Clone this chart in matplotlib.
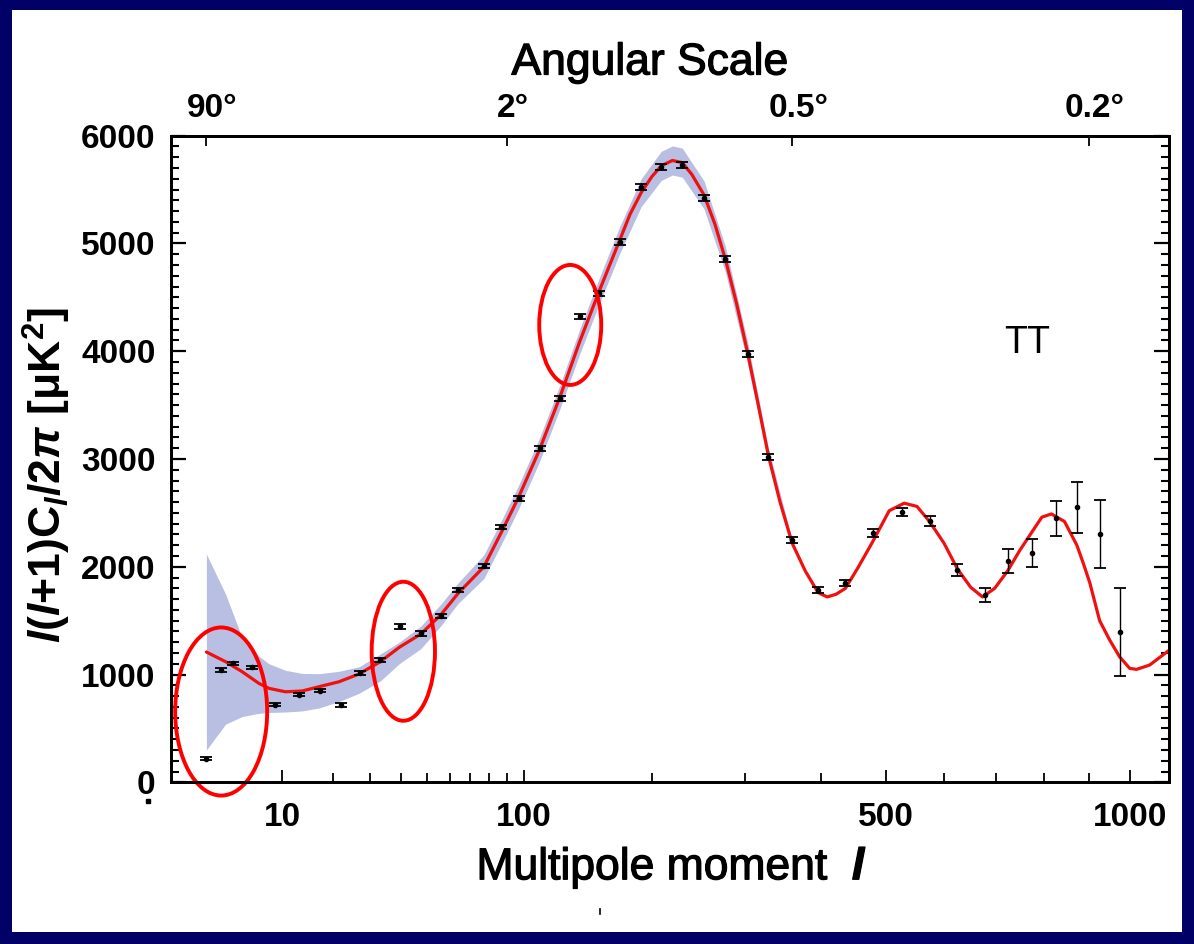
import numpy as np
import matplotlib
matplotlib.use('Agg')
import matplotlib.pyplot as plt
import matplotlib.transforms as mtrans
import matplotlib.patheffects as pe
from matplotlib.patches import Ellipse, Rectangle
from matplotlib.lines import Line2D
from matplotlib.ticker import FixedLocator, NullFormatter, FixedFormatter, MultipleLocator

# ---------------- data ----------------
data_l = [2, 3, 4, 5.9, 8.9, 12.8, 16.9, 21.8, 27, 33.1, 39.8, 47.7, 56, 64.1,
          77.1, 86.5, 97.2, 110.6, 124.3, 139, 153.9, 171.4, 190.1, 209, 230,
          253, 277, 303, 329, 360, 396, 436, 478, 527, 574, 625, 677, 723,
          775, 825, 873, 926, 974]
data_v = [219, 1042, 1104, 1067, 720, 813, 850, 717, 1014, 1135, 1447, 1382,
          1543, 1784, 2007, 2368, 2635, 3099, 3563, 4323, 4536, 5012, 5522,
          5708, 5727, 5421, 4855, 3973, 3017, 2247, 1784, 1849, 2313, 2508,
          2424, 1970, 1737, 2053, 2128, 2449, 2551, 2300, 1394]
data_err = [15, 15, 15, 15, 15, 15, 15, 15, 15, 20, 20, 20, 20, 20,
            22, 22, 22, 25, 25, 25, 25, 28, 28, 28, 28,
            28, 28, 28, 28, 28, 30, 30, 35, 38, 50, 55, 65, 115,
            130, 160, 240, 315, 410]

model_l = [2, 3.35, 4.86, 6.74, 8.05, 10.5, 13.4, 16.8, 21.4, 26.7, 33.1, 39.5,
           47.7, 56, 64, 77, 87, 97, 110, 124, 139, 154, 171, 180, 190, 200,
           209, 220, 230, 240, 253, 265, 277, 290, 303, 316, 329, 344, 360,
           378, 396, 409, 422, 436, 455, 478, 505, 530, 552, 574, 600, 625,
           650, 673, 697, 723, 748, 775, 795, 816, 845, 873, 888, 903, 926,
           950, 974, 999, 1016, 1049, 1098]
model_v = [1209, 1119, 1026, 918, 872, 840, 847, 887, 933, 1005, 1119, 1252,
           1376, 1552, 1753, 2000, 2330, 2650, 3080, 3570, 4100, 4560, 5030,
           5270, 5470, 5620, 5720, 5770, 5750, 5640, 5450, 5180, 4850, 4440,
           3990, 3510, 3030, 2600, 2220, 1960, 1760, 1720, 1745, 1800, 1990,
           2230, 2520, 2590, 2560, 2420, 2220, 1980, 1810, 1720, 1800, 1960,
           2150, 2330, 2460, 2490, 2420, 2200, 2030, 1850, 1500, 1320, 1165,
           1057, 1048, 1088, 1221]

band_l = [2, 3.35, 4.86, 6.74, 8.05, 10.5, 13.4, 16.8, 21.4, 26.7, 33.1, 39.5,
          47.7, 56, 64, 77, 87, 97, 110, 124, 139, 154, 171, 190, 209, 220,
          230, 253, 277, 303, 329, 360]
band_hi = [2118, 1745, 1340, 1170, 1100, 1040, 1010, 1008, 1030, 1072, 1190,
           1300, 1450, 1650, 1850, 2110, 2440, 2760, 3190, 3680, 4215, 4680,
           5155, 5600, 5855, 5905, 5885, 5580, 4970, 4090, 3100, 2250]
band_lo = [300, 540, 610, 640, 648, 652, 662, 690, 750, 826, 940, 1100, 1240,
           1450, 1660, 1890, 2220, 2540, 2970, 3460, 3985, 4440, 4905, 5340,
           5585, 5635, 5615, 5320, 4730, 3890, 2960, 2190]

bottom_ticks = [10, 100, 500, 1000]
bottom_labels = ['10', '100', '500', '1000']
bottom_minor = [20, 30, 40, 50, 60, 70, 80, 90, 200, 300, 400, 600, 700, 800, 900]
top_ticks = [2, 90, 360, 900]
top_labels = ['90°', '2°', '0.5°', '0.2°']

# annotation ellipses (centre in data units, size in axes fraction)
ell_l = [3, 41, 131.6]
ell_v = [657, 1216, 4244]
ell_w = [0.0921, 0.0634, 0.0621]
ell_h = [0.260, 0.215, 0.1856]

# ---------------- style ----------------
plt.rcParams['font.family'] = ['Liberation Sans', 'DejaVu Sans']
plt.rcParams['mathtext.fontset'] = 'custom'
plt.rcParams['mathtext.rm'] = 'Liberation Sans'
plt.rcParams['mathtext.it'] = 'Liberation Sans:italic:bold'
plt.rcParams['mathtext.bf'] = 'Liberation Sans:bold'

NAVY = '#000066'
BAND = '#b8bfe2'
RED = '#f01010'
heavy = [pe.withStroke(linewidth=0.9, foreground='black')]

POW = 0.4
def fwd(x):
    x = np.asarray(x, dtype=float)
    return np.sign(x) * np.abs(x) ** POW

def inv(y):
    y = np.asarray(y, dtype=float)
    return np.sign(y) * np.abs(y) ** (1.0 / POW)

W, H = 1194, 944
fig = plt.figure(figsize=(W / 100, H / 100), dpi=100)
fig.patch.set_facecolor(NAVY)
fig.patches.append(Rectangle((12 / W, 12 / H), (W - 24) / W, (H - 22) / H,
                             transform=fig.transFigure, facecolor='white',
                             edgecolor='none', zorder=-5))

ax = fig.add_axes([170.7 / W, 1 - 782.3 / H, 998.6 / W, 646.6 / H])
ax.set_facecolor('white')
ax.set_xscale('function', functions=(fwd, inv))
ax.set_xlim(0.5, 1100)
ax.set_ylim(0, 6000)

ax.fill_between(band_l, band_lo, band_hi, color=BAND, lw=0, zorder=1)
ax.plot(model_l, model_v, color=RED, lw=2.3, zorder=3,
        solid_joinstyle='round', solid_capstyle='round')
ax.errorbar(data_l, data_v, yerr=data_err, fmt='o', ms=3, color='black',
            ecolor='black', elinewidth=1.0, capsize=4, capthick=1.3, zorder=4)

ax.text(764, 4075, 'TT', fontsize=27, ha='center', va='center')

for sp in ax.spines.values():
    sp.set_linewidth(2.0)

ax.xaxis.set_major_locator(FixedLocator(bottom_ticks))
ax.xaxis.set_major_formatter(FixedFormatter(bottom_labels))
ax.xaxis.set_minor_locator(FixedLocator(bottom_minor))
ax.xaxis.set_minor_formatter(NullFormatter())
ax.tick_params(axis='x', which='both', direction='in', top=False, bottom=True)
ax.tick_params(axis='x', which='major', length=8.6, width=1.3, labelsize=24, pad=14)
ax.tick_params(axis='x', which='minor', length=6.5, width=1.3)

ax.yaxis.set_major_locator(MultipleLocator(1000))
ax.yaxis.set_minor_locator(MultipleLocator(100))
ax.tick_params(axis='y', which='both', direction='in', left=True, right=True)
ax.tick_params(axis='y', which='major', length=10.8, width=1.6, labelsize=24, pad=11)
ax.tick_params(axis='y', which='minor', length=5.5, width=1.5)
for t in ax.get_xticklabels() + ax.get_yticklabels():
    t.set_fontweight('bold')

ax2 = ax.twiny()
ax2.set_xscale('function', functions=(fwd, inv))
ax2.set_xlim(ax.get_xlim())
ax2.xaxis.set_major_locator(FixedLocator(top_ticks))
ax2.xaxis.set_major_formatter(NullFormatter())
ax2.xaxis.set_minor_locator(FixedLocator([]))
ax2.tick_params(axis='x', which='major', direction='in', length=7, width=1.3)
for sp in ax2.spines.values():
    sp.set_linewidth(2.0)

# top labels: centred on the digits (degree sign hangs to the right)
top_trans = mtrans.offset_copy(
    mtrans.blended_transform_factory(ax2.transData, ax2.transAxes),
    fig=fig, x=6, y=12, units='dots')
for l, lab in zip(top_ticks, top_labels):
    ax2.text(l, 1.0, lab, transform=top_trans, fontsize=24, fontweight='bold',
             ha='center', va='bottom')

# ellipses
for l, v, w, h in zip(ell_l, ell_v, ell_w, ell_h):
    c = ax.transAxes.inverted().transform(ax.transData.transform((l, v)))
    ax.add_patch(Ellipse(c, w, h, transform=ax.transAxes, fill=False,
                         edgecolor='red', lw=2.8, clip_on=False, zorder=5))

fig.text(650 / W, 1 - 63 / H, 'Angular Scale', fontsize=32, ha='center',
         va='center', path_effects=heavy)
fig.text(672 / W, 1 - 868 / H, r'Multipole moment  $\mathit{l}$', fontsize=32,
         ha='center', va='center', path_effects=heavy)
fig.text(47 / W, 1 - 475 / H,
         r'$\mathit{l}$($\mathit{l}$+1)C$_{\mathit{l}}$/2$\pi$ [μK$^{\mathbf{2}}$]',
         fontsize=32, fontweight='bold', rotation=90, ha='center', va='center')

# stray specks present in the original slide
fig.add_artist(Line2D([148 / W], [1 - 801 / H], transform=fig.transFigure,
                      marker='s', ms=2.2, color='black', lw=0))
fig.add_artist(Line2D([600 / W, 600 / W], [1 - 909 / H, 1 - 914 / H],
                      transform=fig.transFigure, color='black', lw=1.2))

fig.savefig('out.png', dpi=100, facecolor=fig.get_facecolor())
